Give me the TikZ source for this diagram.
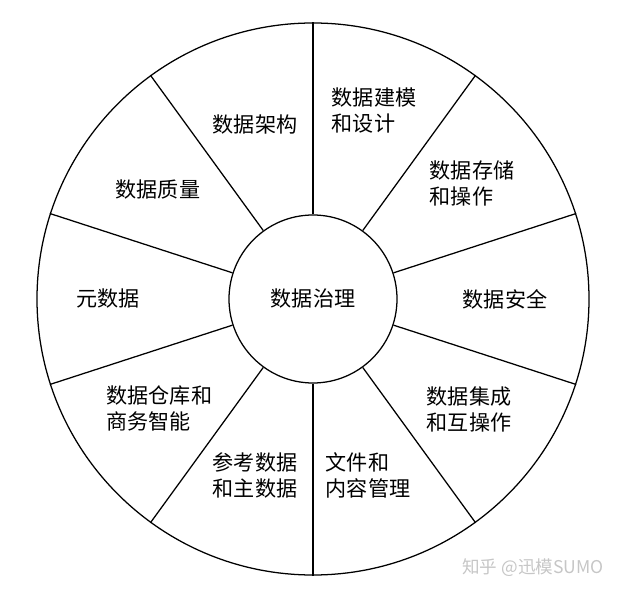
\documentclass[tikz,border=0pt]{standalone}
\usepackage{fontspec}
\setmainfont{Noto Sans CJK SC}
\begin{document}
\begin{tikzpicture}[line width=0.9pt,
    area/.style={align=left,font=\fontsize{15}{18.5}\selectfont}]
    \useasboundingbox (-7.825,-7.4) rectangle (7.825,7.475);
    \node[circle,draw,minimum size=13.8cm] (rim) at (0,0) {};
    \node[circle,draw,minimum size=4.2cm,area] (gov) at (0,0) {数据治理};
    \foreach \a in {90,54,...,-234}
    {
        \draw (gov.\a)--(rim.\a);
    }
    \node[area] (arch) at (-1.45,4.35) {数据架构};
    \node[area] (model) at (1.525,4.7) {数据建模\\和设计};
    \node[area] (store) at (3.975,2.89) {数据存储\\和操作};
    \node[area] (secu) at (4.8,0) {数据安全};
    \node[area] (integ) at (3.9,-2.76) {数据集成\\和互操作};
    \node[area] (doc) at (1.375,-4.4) {文件和\\内容管理};
    \node[area] (ref) at (-1.45,-4.4) {参考数据\\和主数据};
    \node[area] (dw) at (-3.84,-2.74) {数据仓库和\\商务智能};
    \node[area] (meta) at (-5.125,0) {元数据};
    \node[area] (qual) at (-3.875,2.725) {数据质量};
    \node[gray!45,font=\fontsize{12.5}{15}\selectfont] (mark) at (5.5,-6.725) {知乎 @迅模SUMO};
\end{tikzpicture}
\end{document}
